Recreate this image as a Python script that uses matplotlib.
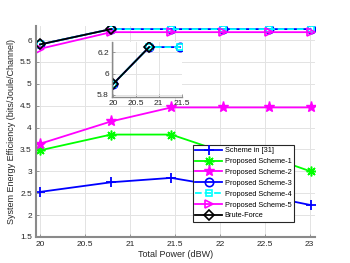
import matplotlib
matplotlib.use('Agg')
import matplotlib.pyplot as plt
from matplotlib.ticker import FormatStrFormatter

plt.rcParams['font.family'] = ['Liberation Sans', 'DejaVu Sans']

power = [20, 20.79, 21.46, 22.04, 22.55, 23.01]
ref31 = [2.53, 2.75, 2.85, 2.65, 2.42, 2.23]
ps1 = [3.48, 3.84, 3.84, 3.44, 3.33, 3.0]
ps2 = [3.63, 4.14, 4.46, 4.46, 4.46, 4.46]
ps3 = [5.9, 6.25, 6.25, 6.25, 6.25, 6.25]
ps4 = [5.9, 6.25, 6.25, 6.25, 6.25, 6.25]
ps5 = [5.8, 6.18, 6.18, 6.18, 6.18, 6.18]
bf_power = [20, 20.79]
bf = [5.9, 6.25]

xticks = [20, 20.5, 21, 21.5, 22, 22.5, 23]
yticks = [1.5, 2, 2.5, 3, 3.5, 4, 4.5, 5, 5.5, 6]

spine_c = '#8a8a8a'
txt_c = '#262626'

fig = plt.figure(figsize=(3.5, 2.63), dpi=100)
ax = fig.add_axes([0.103, 0.099, 0.797, 0.802])

lw = 1.3
ms = 7
ax.plot(power, ref31, '-+', color='#0000ff', lw=lw, ms=ms, mew=1.3, label='Scheme in [31]')
ax.plot(power, ps1, '-', marker=(8, 2, 0), color='#00ff00', lw=lw, ms=ms, mew=1.1, label='Proposed Scheme-1')
ax.plot(power, ps2, '-*', color='#ff00ff', lw=lw, ms=ms + 1, mew=1.0, label='Proposed Scheme-2')
ax.plot(power, ps3, '-o', color='#0000ff', lw=lw, ms=6, mfc='none', mew=1.2, label='Proposed Scheme-3')
ax.plot(power, ps4, '--s', color='#00ffff', lw=lw, ms=5, mfc='none', mew=1.2, label='Proposed Scheme-4')
ax.plot(power, ps5, '->', color='#ff00ff', lw=lw, ms=6, mfc='none', mew=1.2, label='Proposed Scheme-5')
ax.plot(bf_power, bf, '-D', color='black', lw=lw, ms=5, mfc='none', mew=1.2, label='Brute-Force')

ax.set_xlim(19.955, 23.06)
ax.set_ylim(1.5, 6.32)
ax.set_xticks(xticks)
ax.set_yticks(yticks)
ax.xaxis.set_major_formatter(FormatStrFormatter('%g'))
ax.yaxis.set_major_formatter(FormatStrFormatter('%g'))
ax.grid(True, color='#e3e3e3', lw=0.7)
ax.set_axisbelow(True)
for s in ['top', 'right']:
    ax.spines[s].set_visible(False)
for s in ['left', 'bottom']:
    ax.spines[s].set_color(spine_c)
    ax.spines[s].set_linewidth(1.5)
ax.tick_params(direction='in', length=2.5, width=0.6, colors=spine_c, labelsize=6,
               labelcolor=txt_c, pad=3)
ax.set_xlabel('Total Power (dBW)', fontsize=6.5, color=txt_c, labelpad=1)
ax.set_ylabel('System Energy Efficiency (bits/Joule/Channel)', fontsize=6.5, color=txt_c, labelpad=3)

leg = ax.legend(loc='upper left', bbox_to_anchor=(0.563, 0.436), fontsize=5.3, frameon=True,
                fancybox=False, edgecolor='#262626', handlelength=3.6, borderpad=0.3,
                labelspacing=0.5, handletextpad=0.4, borderaxespad=0, framealpha=1)
leg.get_frame().set_linewidth(0.8)

ins = fig.add_axes([0.319, 0.632, 0.2, 0.209])
ins.plot(power[:3], ps3[:3], '-o', color='#0000ff', lw=lw, ms=6, mfc='none', mew=1.2)
ins.plot(power[:3], ps4[:3], '--s', color='#00ffff', lw=lw, ms=5, mfc='none', mew=1.2)
ins.plot(bf_power, bf, '-D', color='black', lw=lw, ms=5, mfc='none', mew=1.2)
ins.set_xlim(19.97, 21.5)
ins.set_ylim(5.78, 6.3)
ins.set_xticks([20, 20.5, 21, 21.5])
ins.set_yticks([5.8, 6, 6.2])
ins.xaxis.set_major_formatter(FormatStrFormatter('%g'))
ins.yaxis.set_major_formatter(FormatStrFormatter('%g'))
ins.grid(True, color='#e3e3e3', lw=0.7)
ins.set_axisbelow(True)
for s in ['top', 'right']:
    ins.spines[s].set_visible(False)
for s in ['left', 'bottom']:
    ins.spines[s].set_color(spine_c)
    ins.spines[s].set_linewidth(1.0)
ins.tick_params(direction='in', length=2, width=0.6, colors=spine_c, labelsize=6,
                labelcolor=txt_c, pad=2)

fig.savefig('out.png', dpi=100)
